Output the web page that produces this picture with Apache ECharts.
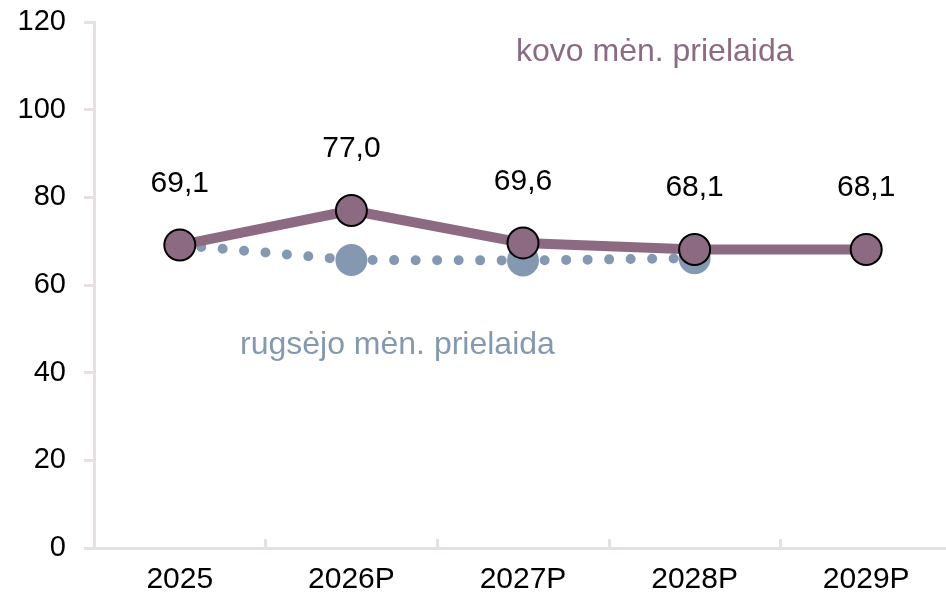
<!DOCTYPE html>
<html>
<head>
<meta charset="utf-8">
<script src="https://cdn.jsdelivr.net/npm/echarts@6/dist/echarts.min.js"></script>
<style>
  html, body { margin: 0; background: #fff; overflow: hidden; }
  #main { width: 952px; height: 602px; }
</style>
</head>
<body>
<div id="main"></div>
<script>
// duomenys
const categories = ['2025', '2026P', '2027P', '2028P', '2029P'];
const kovoValues = [69.1, 77.0, 69.6, 68.1, 68.1];
const rugsejoValues = [69.1, 65.7, 65.6, 66.1, null];
const yTicks = [0, 120, 20]; // min, max, interval

const purple = '#8c6b82';
const blue = '#8499b1';
const axisColor = '#e6e0e4';
const font = 'Liberation Sans, Arial, sans-serif';

// the last category runs a few px past the right edge of the window
const myChart = echarts.init(document.getElementById('main'));
const option = {
  animation: false,
  textStyle: { fontFamily: font },
  grid: { left: 94, right: 0, top: 22, bottom: 54 },
  xAxis: {
    type: 'category',
    data: categories,
    boundaryGap: true,
    axisLine: { lineStyle: { color: axisColor, width: 3 } },
    axisTick: { show: true, inside: true, length: 9, lineStyle: { color: axisColor, width: 3 } },
    axisLabel: { color: '#000', fontSize: 30, margin: 17, fontFamily: font }
  },
  yAxis: {
    type: 'value',
    min: yTicks[0],
    max: yTicks[1],
    interval: yTicks[2],
    splitLine: { show: false },
    axisLine: { show: true, lineStyle: { color: axisColor, width: 3 } },
    axisTick: { show: true, length: 10, lineStyle: { color: axisColor, width: 3 } },
    axisLabel: { color: '#000', fontSize: 29, margin: 28, fontFamily: font }
  },
  series: [
    {
      name: 'rugsėjo mėn. prielaida',
      type: 'line',
      data: rugsejoValues,
      z: 2,
      symbol: 'circle',
      symbolSize: function (v, p) { return p.dataIndex === 0 ? 0 : 32; },
      itemStyle: { color: blue },
      lineStyle: { color: blue, width: 10, type: [0, 21.5], cap: 'round' }
    },
    {
      name: 'kovo mėn. prielaida',
      type: 'line',
      data: kovoValues,
      z: 3,
      symbol: 'circle',
      symbolSize: 31,
      itemStyle: { color: purple, borderColor: '#000', borderWidth: 2 },
      lineStyle: { color: purple, width: 10 },
      label: {
        show: true,
        position: 'top',
        distance: 30,
        color: '#000',
        fontSize: 30,
        fontFamily: font,
        formatter: function (p) { return p.value.toFixed(1).replace('.', ','); }
      }
    }
  ],
  graphic: [
    {
      type: 'text', left: 516, top: 36,
      style: { text: 'kovo mėn. prielaida', fill: purple, font: '32px ' + font }
    },
    {
      type: 'text', left: 240, top: 329,
      style: { text: 'rugsėjo mėn. prielaida', fill: blue, font: '32px ' + font }
    }
  ]
};
myChart.setOption(option);
</script>
</body>
</html>
